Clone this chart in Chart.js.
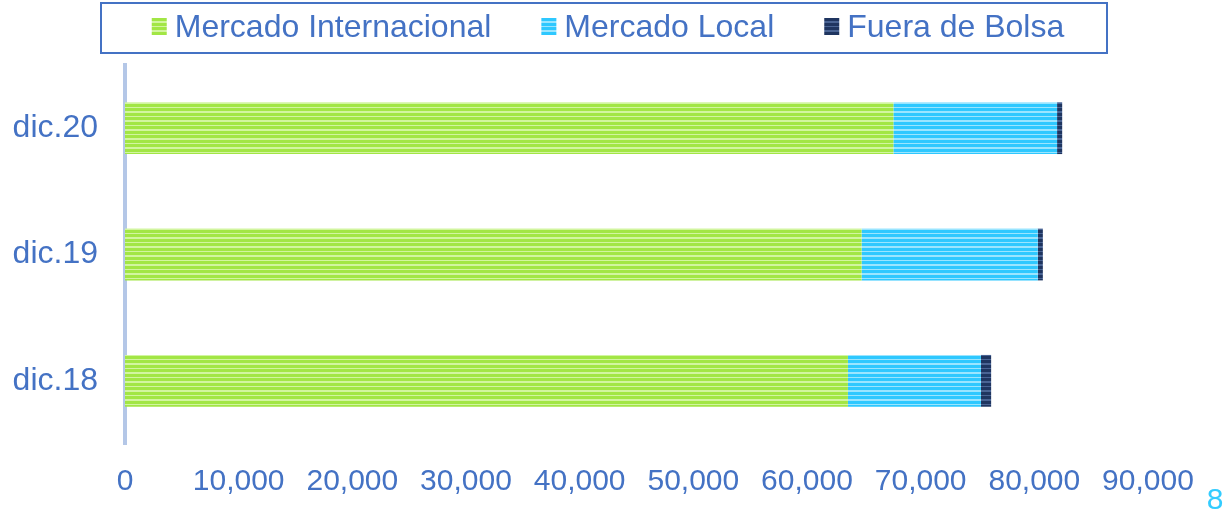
<!DOCTYPE html>
<html>
<head>
<meta charset="utf-8">
<script src="https://cdn.jsdelivr.net/npm/chart.js@4.4.1/dist/chart.umd.min.js"></script>
<style>
  html, body { margin: 0; padding: 0; background: #ffffff; }
  #wrap { position: relative; width: 1226px; height: 510px; }
  canvas { display: block; }
</style>
</head>
<body>
<div id="wrap"><canvas id="c" width="1226" height="510"></canvas></div>
<script>
// ---- data ----
const categories = ['dic.20', 'dic.19', 'dic.18'];
const seriesNames = ['Mercado Internacional', 'Mercado Local', 'Fuera de Bolsa'];
const mercadoInternacional = [67600, 64800, 63600];
const mercadoLocal = [14400, 15500, 11700];
const fueraDeBolsa = [450, 450, 900];
const xTicks = [0, 10000, 20000, 30000, 40000, 50000, 60000, 70000, 80000, 90000];
const pageNumber = '8';

const TEXT = '#4472c4';
const FONT = '"Liberation Sans", Arial, sans-serif';

function stripes(base, light) {
  const c = document.createElement('canvas');
  c.width = 4; c.height = 9;
  const g = c.getContext('2d');
  g.fillStyle = base; g.fillRect(0, 0, 4, 9);
  g.fillStyle = light; g.fillRect(0, 3, 4, 2); g.fillRect(0, 8, 4, 1);
  return g.createPattern(c, 'repeat');
}
const ctx = document.getElementById('c').getContext('2d');
const fills = [
  stripes('#a2e645', '#d2f5a0'),
  stripes('#2ec8ff', '#9ae5ff'),
  stripes('#1f3560', '#4a6494')
];

const legendPlugin = {
  id: 'boxLegend',
  afterDraw(chart) {
    const g = chart.ctx;
    g.save();
    g.strokeStyle = TEXT; g.lineWidth = 2;
    g.strokeRect(101, 3, 1006, 50);
    g.font = '32px ' + FONT;
    g.textBaseline = 'middle';
    const mw = 15, mg = 8, ig = 50;
    const widths = seriesNames.map(n => g.measureText(n).width);
    const total = widths.reduce((a, b) => a + b, 0) + seriesNames.length * (mw + mg) + ig * (seriesNames.length - 1);
    let x = 608 - total / 2;
    seriesNames.forEach((n, i) => {
      g.fillStyle = fills[i];
      g.fillRect(x, 18, mw, 17);
      g.fillStyle = TEXT;
      g.fillText(n, x + mw + mg, 28);
      x += mw + mg + widths[i] + ig;
    });
    g.font = '30px ' + FONT;
    g.fillStyle = '#33ccff';
    g.textBaseline = 'alphabetic';
    g.textAlign = 'center';
    g.fillText(pageNumber, 1215, 509);
    g.restore();
  }
};

new Chart(ctx, {
  type: 'bar',
  data: {
    labels: categories,
    datasets: [
      { label: seriesNames[0], data: mercadoInternacional, backgroundColor: fills[0] },
      { label: seriesNames[1], data: mercadoLocal, backgroundColor: fills[1] },
      { label: seriesNames[2], data: fueraDeBolsa, backgroundColor: fills[2] }
    ]
  },
  options: {
    indexAxis: 'y',
    responsive: false,
    animation: false,
    layout: { padding: { left: 0, right: 78, top: 65, bottom: 0 } },
    datasets: { bar: { categoryPercentage: 1, barPercentage: 0.41 } },
    plugins: { legend: { display: false }, tooltip: { enabled: false } },
    scales: {
      x: {
        stacked: true,
        min: 0, max: 90000,
        afterBuildTicks: s => { s.ticks = xTicks.map(v => ({ value: v })); },
        afterFit: s => { s.height = 66; },
        grid: { display: false, drawTicks: false },
        border: { display: false },
        ticks: {
          color: TEXT, padding: 20, maxRotation: 0, autoSkip: false,
          font: { family: FONT, size: 30 },
          callback: v => Number(v).toLocaleString('en-US')
        }
      },
      y: {
        stacked: true,
        afterFit: s => { s.width = 125; },
        grid: { display: false, drawTicks: false },
        border: { display: true, color: '#b4c7e7', width: 4 },
        ticks: { color: TEXT, padding: 27, font: { family: FONT, size: 32 } }
      }
    }
  },
  plugins: [legendPlugin]
});
</script>
</body>
</html>
